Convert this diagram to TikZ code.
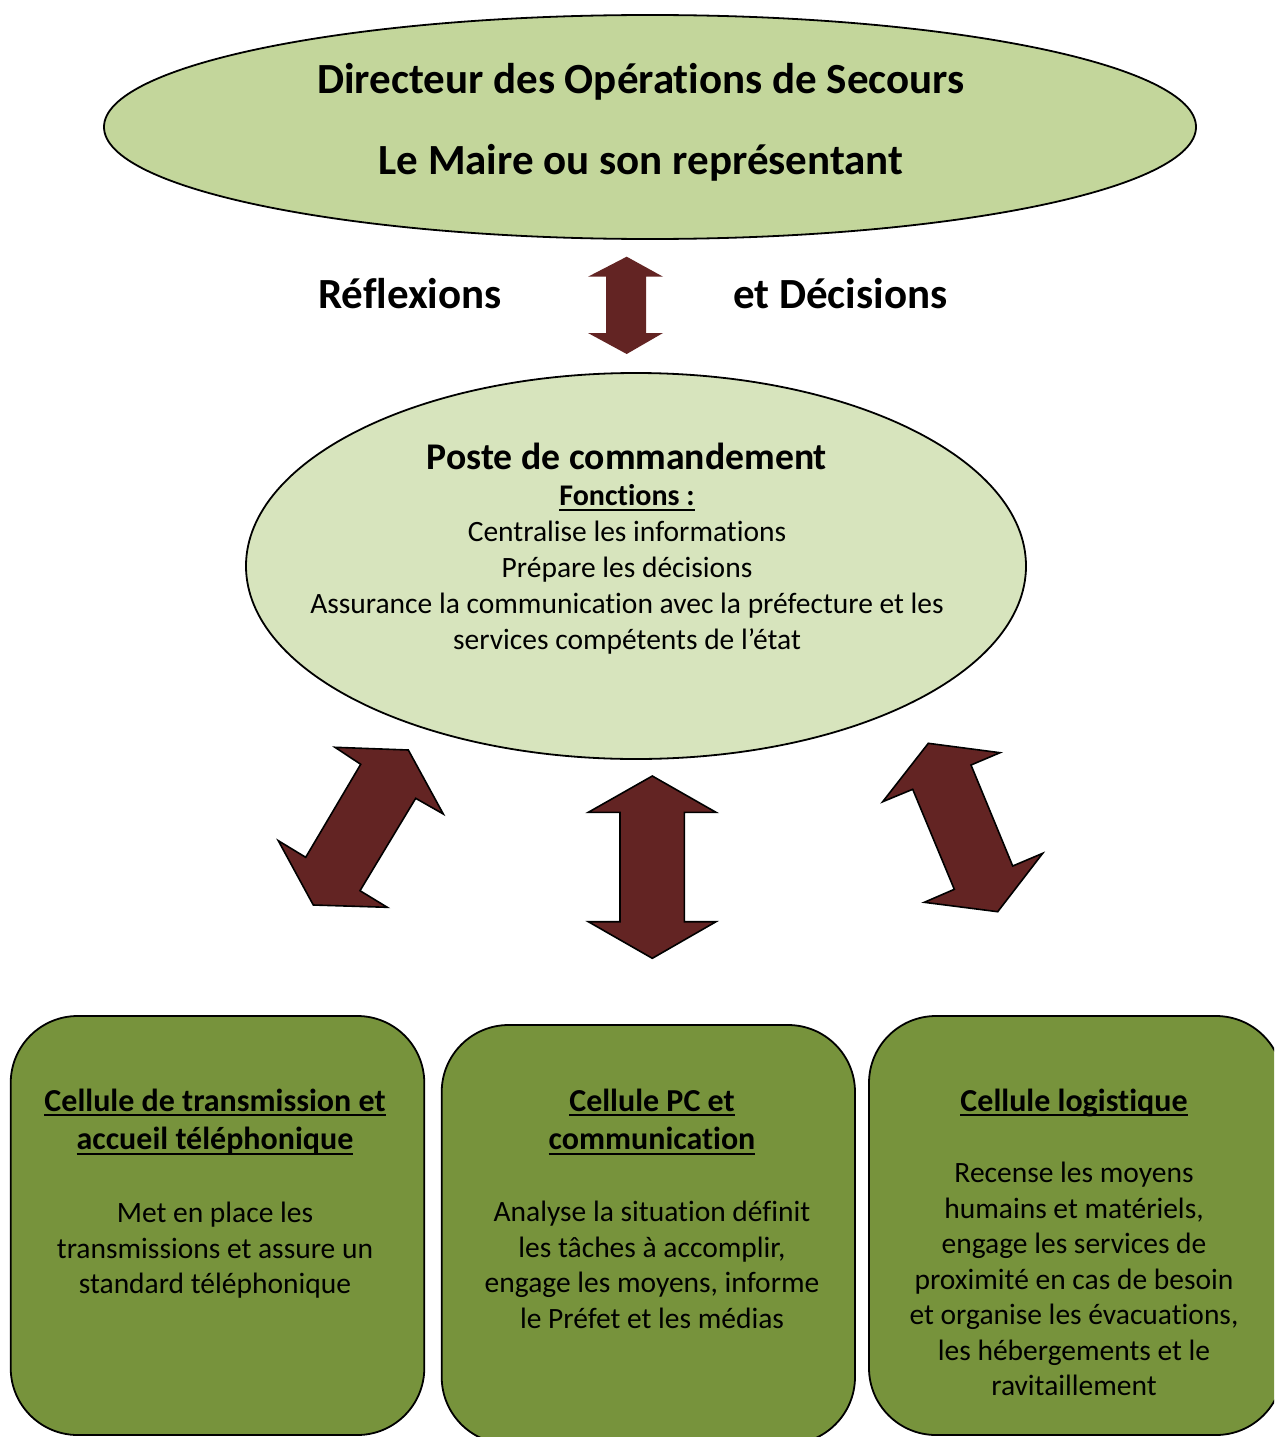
\documentclass[tikz,border=0pt]{standalone}
\usepackage{fontspec}
\setmainfont{Carlito}[Ligatures=NoCommon]
\usetikzlibrary{shapes.geometric}
\definecolor{topgreen}{HTML}{C3D69B}
\definecolor{midgreen}{HTML}{D7E4BD}
\definecolor{boxgreen}{HTML}{77933C}
\definecolor{arrowred}{HTML}{632423}
\newcommand\myul[1]{\setbox0\hbox{#1}\rlap{\rule[-5pt]{\wd0}{1.8pt}}\box0}
\tikzset{
  bigellipse/.style={ellipse, draw=black, line width=1.8pt, inner sep=0pt},
  cellbox/.style={draw=black, line width=1.8pt, fill=boxgreen, rounded corners=67pt},
  blockarrow/.style={fill=arrowred, draw=black, line width=1.6pt, line join=miter},
  toptext/.style={font=\bfseries\fontsize{43}{48}\selectfont, anchor=base, inner sep=0pt},
  sidetext/.style={font=\bfseries\fontsize{43}{48}\selectfont, anchor=base west, inner sep=0pt},
  bodytext/.style={font=\fontsize{29.5}{36}\selectfont, align=center, anchor=base, inner sep=0pt},
  celltitle/.style={font=\bfseries\fontsize{32}{38.5}\selectfont, align=center, anchor=base, inner sep=0pt},
  cellbody/.style={font=\fontsize{29.5}{35.5}\selectfont, align=center, anchor=base, inner sep=0pt}
}
\begin{document}
\begin{tikzpicture}[x=1pt,y=-1pt]
\useasboundingbox (0,0) rectangle (1274,1437);
\clip (0,0) rectangle (1274,1437);
\fill[white] (0,0) rectangle (1274,1437);

% top ellipse
\node[bigellipse, fill=topgreen, minimum width=1092pt, minimum height=224pt] (dos) at (650,127) {};
\node[toptext] (dosA) at (641,93) {Directeur des Opérations de Secours};
\node[toptext] (dosB) at (641,174) {Le Maire ou son représentant};

% reflexions arrow
\draw[fill=arrowred, draw=none] (626.7,256.7) -- (663,276.7) -- (646,276.7) -- (646,333) -- (663,333)
  -- (626.7,354) -- (588,333) -- (606,333) -- (606,276.7) -- (588,276.7) -- cycle;
\node[sidetext] (refl) at (318,308) {Réflexions};
\node[sidetext] (dec) at (733,308) {et Décisions};

% middle ellipse
\node[bigellipse, fill=midgreen, minimum width=780pt, minimum height=386pt] (pc) at (636,566) {};
\node[font=\bfseries\fontsize{37.7}{44}\selectfont, anchor=base, inner sep=0pt] (pcT) at (627,469) {Poste de commandement};
\node[font=\bfseries\fontsize{30}{36}\selectfont, anchor=base, inner sep=0pt] (pcF) at (627,505.5) {\myul{Fonctions :}};
\node[bodytext] (pcB) at (627,649.5) {Centralise les informations\\Prépare les décisions\\Assurance la communication avec la préfecture et les\\services compétents de l’état};

% left diagonal arrow
\draw[blockarrow] (335,747.3) -- (408.3,750) -- (443.3,814) -- (415.7,798.3) -- (360,890.7) -- (387.3,907.3)
  -- (313.3,905) -- (278.3,840.7) -- (305.7,857.3) -- (360.7,764.3) -- cycle;
% middle vertical arrow
\draw[blockarrow] (652.3,776) -- (716,812.3) -- (684.3,812.3) -- (684.3,921.7) -- (716,921.7) -- (652.3,958.3)
  -- (588.3,921.7) -- (620,921.7) -- (620,812.3) -- (588.3,812.3) -- cycle;
% right diagonal arrow
\draw[blockarrow] (928.3,743.3) -- (1000,752.7) -- (971,765) -- (1012.7,866) -- (1042.7,853.3) -- (997.7,911.7)
  -- (924.3,902.3) -- (954.3,889.3) -- (912.7,789.3) -- (882.7,801.7) -- cycle;

% cells
\draw[cellbox] (10.7,1016) rectangle (424.3,1435);
\node[celltitle] (c1T) at (215,1149.5) {\myul{Cellule de transmission et}\\\myul{accueil téléphonique}};
\node[cellbody] (c1B) at (215,1293.5) {Met en place les\\transmissions et assure un\\standard téléphonique};

\draw[cellbox] (441.7,1025) rectangle (855,1444);
\node[celltitle] (c2T) at (652,1149.5) {\myul{Cellule PC et}\\\myul{communication}};
\node[cellbody] (c2B) at (652,1328.2) {Analyse la situation définit\\les tâches à accomplir,\\engage les moyens, informe\\le Préfet et les médias};

\draw[cellbox] (869,1016) rectangle (1283,1435);
\node[celltitle] (c3T) at (1074,1111) {\myul{Cellule logistique}};
\node[cellbody] (c3B) at (1074,1395.7) {Recense les moyens\\humains et matériels,\\engage les services de\\proximité en cas de besoin\\et organise les évacuations,\\les hébergements et le\\ravitaillement};
\end{tikzpicture}
\end{document}
